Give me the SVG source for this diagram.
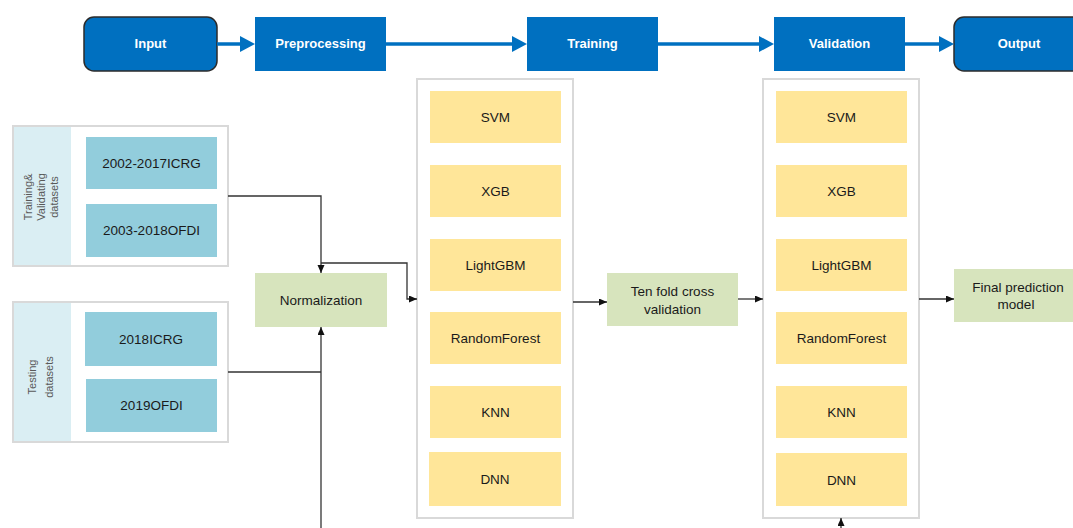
<svg xmlns="http://www.w3.org/2000/svg" width="1073" height="528" viewBox="0 0 1073 528">
<style>
.stage{fill:#0070C0}
.term{fill:#0070C0;stroke:#2b2b2b;stroke-width:1.5}
.stxt{font-family:"Liberation Sans",Arial,sans-serif;font-size:13px;font-weight:bold;fill:#fff;text-anchor:middle}
.txt{font-family:"Liberation Sans",Arial,sans-serif;font-size:13.5px;fill:#1a1a1a;text-anchor:middle}
.vtxt{font-family:"Liberation Sans",Arial,sans-serif;font-size:11px;fill:#595959;text-anchor:middle}
.panel{fill:#fff;stroke:#D9D9D9;stroke-width:2}
.strip{fill:#DAEEF3}
.data{fill:#92CDDC}
.model{fill:#FFE699}
.green{fill:#D7E4BD}
.cont{fill:#fff;stroke:#D9D9D9;stroke-width:2}
.blk{fill:none;stroke:#333;stroke-width:1.3}
.blue{fill:none;stroke:#0070C0;stroke-width:3.5}
.bhead{fill:#0070C0}
</style>
<defs>
<marker id="ah" markerUnits="userSpaceOnUse" markerWidth="9" markerHeight="8" refX="8" refY="3.5" orient="auto">
<path d="M0,0 L8,3.5 L0,7 z" fill="#111"/>
</marker>
</defs>

<!-- top flow -->
<g id="input"><rect class="term" x="84" y="17" width="133" height="54" rx="10"/><text class="stxt" x="150.5" y="48">Input</text></g>
<g id="preprocessing"><rect class="stage" x="255" y="17" width="131" height="54"/><text class="stxt" x="320.5" y="48">Preprocessing</text></g>
<g id="training"><rect class="stage" x="527" y="17" width="131" height="54"/><text class="stxt" x="592.5" y="48">Training</text></g>
<g id="validation"><rect class="stage" x="774" y="17" width="131" height="54"/><text class="stxt" x="839.5" y="48">Validation</text></g>
<g id="output"><rect class="term" x="954" y="17" width="134" height="54" rx="10"/><text class="stxt" x="1019" y="48">Output</text></g>

<!-- left panels -->
<g id="train-datasets">
<rect class="panel" x="13" y="126" width="215" height="140"/>
<rect class="strip" x="14" y="127" width="57" height="138"/>
<g transform="translate(41,197) rotate(-90)">
<text class="vtxt" x="0" y="-9">Training&amp;</text>
<text class="vtxt" x="0" y="4">Validating</text>
<text class="vtxt" x="0" y="17">datasets</text>
</g>
</g>
<g id="icrg-2002"><rect class="data" x="86" y="137" width="131" height="52"/><text class="txt" x="151.5" y="167.5">2002-2017ICRG</text></g>
<g id="ofdi-2003"><rect class="data" x="86" y="204" width="131" height="53"/><text class="txt" x="151.5" y="235">2003-2018OFDI</text></g>

<g id="test-datasets">
<rect class="panel" x="13" y="302" width="215" height="140"/>
<rect class="strip" x="14" y="303" width="57" height="138"/>
<g transform="translate(40,377) rotate(-90)">
<text class="vtxt" x="0" y="-4">Testing</text>
<text class="vtxt" x="0" y="12.5">datasets</text>
</g>
</g>
<g id="icrg-2018"><rect class="data" x="85" y="312" width="132" height="54"/><text class="txt" x="151" y="343.5">2018ICRG</text></g>
<g id="ofdi-2019"><rect class="data" x="86" y="379" width="131" height="53"/><text class="txt" x="151.5" y="410">2019OFDI</text></g>

<g id="normalization"><rect class="green" x="255" y="273" width="132" height="54"/><text class="txt" x="321" y="304.5">Normalization</text></g>

<!-- training container -->
<g id="training-models">
<rect class="cont" x="417" y="79" width="156" height="439"/>
<rect class="model" x="430" y="91" width="131" height="52"/><text class="txt" x="495.5" y="122">SVM</text>
<rect class="model" x="430" y="165" width="131" height="52"/><text class="txt" x="495.5" y="196">XGB</text>
<rect class="model" x="430" y="239" width="131" height="52"/><text class="txt" x="495.5" y="270">LightGBM</text>
<rect class="model" x="430" y="312" width="131" height="52"/><text class="txt" x="495.5" y="343">RandomForest</text>
<rect class="model" x="430" y="386" width="131" height="52"/><text class="txt" x="495.5" y="417">KNN</text>
<rect class="model" x="429" y="452" width="132" height="54"/><text class="txt" x="495" y="484">DNN</text>
</g>

<g id="ten-fold"><rect class="green" x="607" y="273" width="131" height="53"/>
<text class="txt" x="672.5" y="295.5">Ten fold cross</text>
<text class="txt" x="672.5" y="314">validation</text></g>

<!-- validation container -->
<g id="validation-models">
<rect class="cont" x="763" y="79" width="156" height="439"/>
<rect class="model" x="776" y="91" width="131" height="52"/><text class="txt" x="841.5" y="122">SVM</text>
<rect class="model" x="776" y="165" width="131" height="52"/><text class="txt" x="841.5" y="196">XGB</text>
<rect class="model" x="776" y="239" width="131" height="52"/><text class="txt" x="841.5" y="270">LightGBM</text>
<rect class="model" x="776" y="312" width="131" height="52"/><text class="txt" x="841.5" y="343">RandomForest</text>
<rect class="model" x="776" y="386" width="131" height="52"/><text class="txt" x="841.5" y="417">KNN</text>
<rect class="model" x="776" y="453" width="131" height="53"/><text class="txt" x="841.5" y="484.5">DNN</text>
</g>

<g id="final-model"><rect class="green" x="954" y="269" width="131" height="53"/>
<text class="txt" x="1018" y="291.5">Final prediction</text>
<text class="txt" x="1016" y="309">model</text></g>

<!-- connectors -->
<g id="connectors">
<line class="blue" x1="217" y1="44" x2="242" y2="44"/><polygon class="bhead" points="240,36 255,44 240,52"/>
<line class="blue" x1="386" y1="44" x2="514" y2="44"/><polygon class="bhead" points="512,36 527,44 512,52"/>
<line class="blue" x1="658" y1="44" x2="761" y2="44"/><polygon class="bhead" points="759,36 774,44 759,52"/>
<line class="blue" x1="905" y1="44" x2="941" y2="44"/><polygon class="bhead" points="939,36 954,44 939,52"/>

<path class="blk" d="M228,196 H321 V273" marker-end="url(#ah)"/>
<path class="blk" d="M321,263 H407 V299 H417" marker-end="url(#ah)"/>
<path class="blk" d="M228,372 H321"/>
<path class="blk" d="M321,528 V327" marker-end="url(#ah)"/>
<path class="blk" d="M573,302 H607" marker-end="url(#ah)"/>
<path class="blk" d="M738,299 H763" marker-end="url(#ah)"/>
<path class="blk" d="M919,299 H954" marker-end="url(#ah)"/>
<path class="blk" d="M841,528 V518" marker-end="url(#ah)"/>
</g>
</svg>
